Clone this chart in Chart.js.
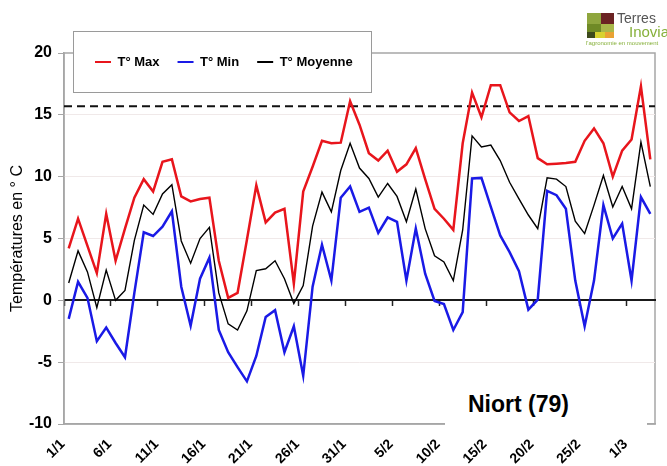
<!DOCTYPE html>
<html>
<head>
<meta charset="utf-8">
<script src="https://cdn.jsdelivr.net/npm/chart.js@4.4.1/dist/chart.umd.min.js"></script>
<style>
  body { margin: 0; background: #fff; }
  #wrap { position: relative; width: 667px; height: 466px; }
  #niort { position: absolute; left: 445px; top: 383px; width: 202px; height: 42px; background: #fff;
           font: bold 23px "Liberation Sans", Arial, sans-serif; line-height: 42px; padding-left: 23px; box-sizing: border-box; color: #000; }
  .sq { position: absolute; }
  #terres { position: absolute; left: 617px; top: 10px; font: 14px "Liberation Sans", Arial, sans-serif; color: #555; }
  #inovia { position: absolute; left: 629px; top: 23px; font: 15px "Liberation Sans", Arial, sans-serif; color: #86b03a; }
  #tag { position: absolute; left: 586px; top: 40px; font: 6px "Liberation Sans", Arial, sans-serif; color: #86b03a; white-space: nowrap; }
</style>
</head>
<body>
<div id="wrap">
  <canvas id="c" width="667" height="466"></canvas>
  <div id="niort">Niort (79)</div>
  <div class="sq" style="left:587px;top:13px;width:14px;height:11px;background:#8fa63e"></div>
  <div class="sq" style="left:601px;top:13px;width:13px;height:11px;background:#6b2323"></div>
  <div class="sq" style="left:587px;top:24px;width:14px;height:8px;background:#6f8a26"></div>
  <div class="sq" style="left:601px;top:24px;width:13px;height:8px;background:#a9b84a"></div>
  <div class="sq" style="left:587px;top:32px;width:8px;height:6px;background:#3d4a1c"></div>
  <div class="sq" style="left:595px;top:32px;width:10px;height:6px;background:#d8d230"></div>
  <div class="sq" style="left:605px;top:32px;width:9px;height:6px;background:#e9a234"></div>
  <div id="terres">Terres</div>
  <div id="inovia">Inovia</div>
  <div id="tag">l'agronomie en mouvement</div>
</div>
<script>
var jours = ['1/1','2/1','3/1','4/1','5/1','6/1','7/1','8/1','9/1','10/1','11/1','12/1','13/1','14/1','15/1','16/1',
  '17/1','18/1','19/1','20/1','21/1','22/1','23/1','24/1','25/1','26/1','27/1','28/1','29/1','30/1','31/1',
  '1/2','2/2','3/2','4/2','5/2','6/2','7/2','8/2','9/2','10/2','11/2','12/2','13/2','14/2','15/2',
  '16/2','17/2','18/2','19/2','20/2','21/2','22/2','23/2','24/2','25/2','26/2','27/2','28/2','29/2',
  '1/3','2/3','3/3'];

var tmax = [4.2, 6.6, 4.4, 2.2, 7.0, 3.2, 5.8, 8.3, 9.8, 8.8,
  11.2, 11.4, 8.4, 8.0, 8.2, 8.3, 3.2, 0.2, 0.6, 4.9,
  9.3, 6.3, 7.1, 7.4, 1.35, 8.8, 10.8, 12.9, 12.7, 12.75,
  16.1, 14.2, 11.9, 11.3, 12.1, 10.4, 11.0, 12.3, 9.8, 7.4,
  6.6, 5.7, 12.7, 16.8, 14.8, 17.4, 17.4, 15.2, 14.5, 14.9,
  11.5, 11.0, 11.05, 11.1, 11.2, 12.9, 13.9, 12.7, 10.0, 12.1,
  13.0, 17.3, 11.4];

var tmin = [-1.5, 1.5, 0.2, -3.3, -2.2, -3.45, -4.6, 0.6, 5.5, 5.2,
  5.95, 7.2, 1.1, -2.05, 1.75, 3.45, -2.4, -4.2, -5.4, -6.55,
  -4.5, -1.35, -0.8, -4.2, -2.1, -6.1, 1.1, 4.5, 1.6, 8.3,
  9.2, 7.15, 7.5, 5.45, 6.7, 6.35, 1.6, 5.8, 2.15, -0.05,
  -0.3, -2.4, -0.95, 9.85, 9.9, 7.55, 5.25, 3.9, 2.35, -0.75,
  0.05, 8.85, 8.5, 7.4, 1.6, -2.1, 1.6, 7.7, 5.0, 6.2,
  1.6, 8.35, 7.0];

var tmoy = [1.4, 4.0, 2.3, -0.6, 2.45, 0.0, 0.8, 4.85, 7.7, 6.95,
  8.6, 9.35, 4.8, 3.0, 5.0, 5.9, 0.6, -1.9, -2.4, -0.85,
  2.4, 2.55, 3.2, 1.75, -0.25, 1.2, 6.0, 8.75, 7.15, 10.5,
  12.7, 10.7, 9.85, 8.35, 9.45, 8.4, 6.35, 9.0, 5.8, 3.6,
  3.1, 1.6, 5.7, 13.3, 12.4, 12.55, 11.3, 9.55, 8.2, 6.9,
  5.8, 9.9, 9.8, 9.2, 6.4, 5.4, 7.7, 10.1, 7.55, 9.2,
  7.4, 12.8, 9.2];

var seuil = 15.7;
var yTicks = [-10, -5, 0, 5, 10, 15, 20];

Chart.defaults.font.family = '"Liberation Sans", Arial, sans-serif';
Chart.defaults.color = '#000';

var cadre = {
  id: 'cadre',
  afterLayout: function(chart) {
    // move legend inside its box over the plot
    var lg = chart.legend, ca = chart.chartArea;
    lg.left = ca.left + 13; lg.top = ca.top - 15.5;
    lg.width = 300; lg.height = 40;
    lg.right = lg.left + lg.width; lg.bottom = lg.top + lg.height;
  },
  beforeDraw: function(chart) {
    var ctx = chart.ctx, ca = chart.chartArea;
    ctx.save();
    ctx.strokeStyle = '#a6a6a6';
    ctx.lineWidth = 1.5;
    ctx.strokeRect(ca.left, ca.top, ca.right - ca.left, ca.bottom - ca.top);
    ctx.fillStyle = '#fff';
    ctx.strokeStyle = '#9a9a9a';
    ctx.lineWidth = 1;
    ctx.fillRect(ca.left + 9, ca.top - 22, 298, 61);
    ctx.strokeRect(ca.left + 9.5, ca.top - 21.5, 298, 61);
    ctx.restore();
  },
  beforeDatasetsDraw: function(chart) {
    var ctx = chart.ctx, ca = chart.chartArea;
    var y = chart.scales.y.getPixelForValue(seuil);
    ctx.save();
    ctx.strokeStyle = '#111';
    ctx.lineWidth = 2;
    ctx.setLineDash([8, 5]);
    ctx.beginPath();
    ctx.moveTo(ca.left, y);
    ctx.lineTo(ca.right, y);
    ctx.stroke();
    ctx.restore();
  }
};

var ctx = document.getElementById('c').getContext('2d');
var chart = new Chart(ctx, {
  type: 'line',
  data: {
    labels: jours,
    datasets: [
      { label: 'T° Max', data: tmax, borderColor: '#e8151c', backgroundColor: '#e8151c', borderWidth: 2.5 },
      { label: 'T° Min', data: tmin, borderColor: '#1a1ae6', backgroundColor: '#1a1ae6', borderWidth: 2.5 },
      { label: 'T° Moyenne', data: tmoy, borderColor: '#000', backgroundColor: '#000', borderWidth: 1.4 }
    ]
  },
  options: {
    responsive: false,
    animation: false,
    devicePixelRatio: 1,
    layout: { padding: { top: 12, left: 4, right: 12, bottom: 0 } },
    elements: { point: { radius: 0 }, line: { tension: 0 } },
    plugins: {
      tooltip: { enabled: false },
      legend: {
        position: 'top',
        align: 'start',
        labels: {
          boxWidth: 16,
          boxHeight: 2,
          padding: 18,
          font: { size: 13, weight: 'bold' },
          generateLabels: function(chart) {
            return Chart.defaults.plugins.legend.labels.generateLabels(chart).map(function(l) {
              l.fillStyle = l.strokeStyle;
              l.lineWidth = 0;
              return l;
            });
          }
        }
      }
    },
    scales: {
      x: {
        type: 'category',
        offset: true,
        grid: { display: false },
        border: { color: '#a6a6a6', width: 1.5 },
        afterFit: function(axis) { axis.height = 42; },
        ticks: {
          autoSkip: false,
          maxRotation: 45,
          minRotation: 45,
          padding: 4,
          labelOffset: -6,
          font: { size: 14, weight: 'bold' },
          callback: function(v, i) { return i % 5 === 0 ? this.getLabelForValue(v) : ''; }
        }
      },
      x0: {
        type: 'category',
        position: { y: 0 },
        offset: true,
        grid: {
          offset: true,
          drawOnChartArea: false,
          tickLength: 5,
          tickWidth: 1.5,
          tickColor: function(c) { return c.index % 5 === 0 ? '#222' : 'rgba(0,0,0,0)'; }
        },
        border: { color: '#1a1a1a', width: 2 },
        ticks: { display: false, autoSkip: false }
      },
      y: {
        min: -10,
        max: 20,
        afterBuildTicks: function(axis) { axis.ticks = yTicks.map(function(v) { return { value: v }; }); },
        afterFit: function(axis) { axis.width = 60; },
        ticks: { padding: 6, font: { size: 16, weight: 'bold' } },
        grid: {
          tickLength: 6,
          tickColor: '#a6a6a6',
          color: function(c) {
            var v = c.tick ? c.tick.value : null;
            return (v === 20 || v === -10 || v === 0) ? 'rgba(0,0,0,0)' : '#f0e9e9';
          }
        },
        border: { color: '#a6a6a6', width: 1.5 },
        title: { display: true, text: 'Températures en ° C', font: { size: 16 }, padding: { top: 4, bottom: 2 } }
      }
    }
  },
  plugins: [cadre]
});
</script>
</body>
</html>
